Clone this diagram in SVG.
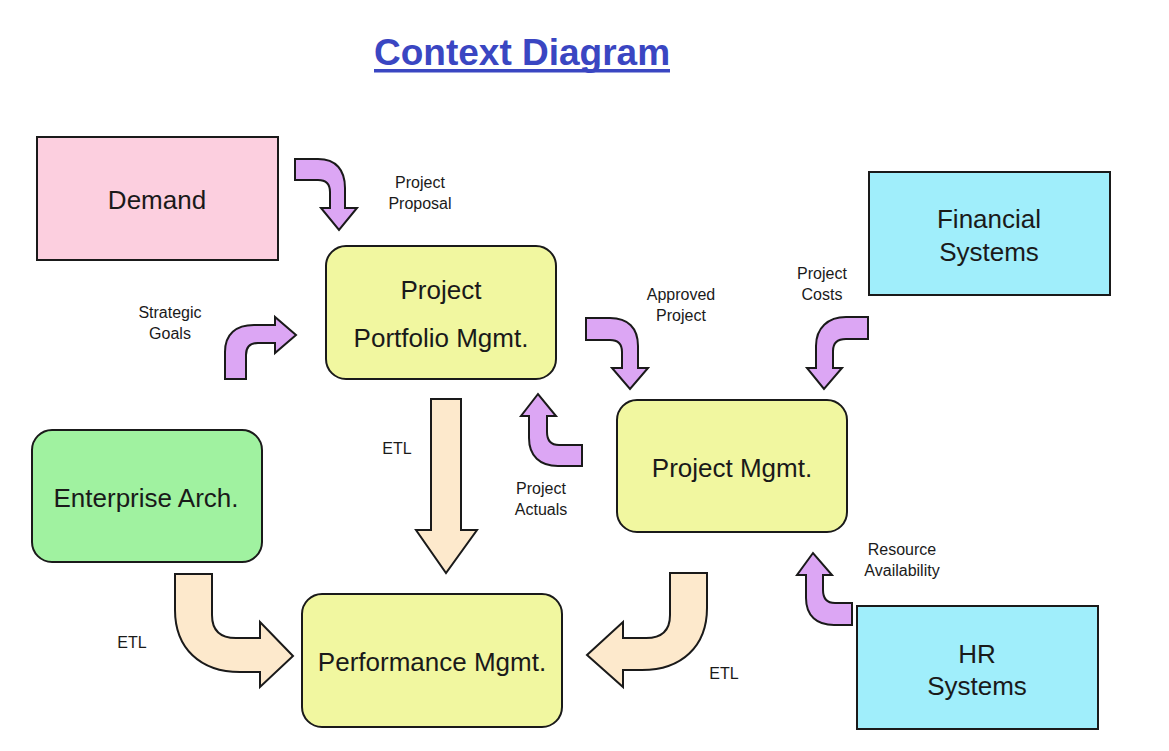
<svg xmlns="http://www.w3.org/2000/svg" width="1169" height="751" viewBox="0 0 1169 751">
<style>
.box{stroke:#1a1a1a;stroke-width:2}
.pink{fill:#fccfdf}
.yel{fill:#f1f7a0}
.cyan{fill:#a0eefb}
.grn{fill:#a0f2a0}
.t{font-family:"Liberation Sans",Arial,sans-serif;font-size:26px;fill:#1a1a1a;text-anchor:middle}
.l{font-family:"Liberation Sans",Arial,sans-serif;font-size:16px;fill:#1a1a1a;text-anchor:middle}
.pa{fill:#dca6f4;stroke:#1a1a1a;stroke-width:2;stroke-linejoin:miter}
.ea{fill:#fde9cc;stroke:#1a1a1a;stroke-width:2;stroke-linejoin:miter}
</style>
<rect width="1169" height="751" fill="#ffffff"/>
<g id="title">
<text x="374" y="65" font-family="'Liberation Sans',Arial,sans-serif" font-weight="bold" font-size="37" fill="#3a46c2">Context Diagram</text>
<rect x="374" y="69" width="296" height="3.5" fill="#3a46c2"/>
</g>
<g id="demand">
<rect class="box pink" x="37" y="137" width="241" height="123"/>
<text class="t" x="157" y="209">Demand</text>
</g>
<g id="ppm">
<rect class="box yel" x="326" y="246" width="230" height="133" rx="20"/>
<text class="t" x="441" y="299">Project</text>
<text class="t" x="441" y="347">Portfolio Mgmt.</text>
</g>
<g id="financial">
<rect class="box cyan" x="869" y="172" width="241" height="123"/>
<text class="t" x="989" y="228">Financial</text>
<text class="t" x="989" y="261">Systems</text>
</g>
<g id="pm">
<rect class="box yel" x="617" y="400" width="230" height="132" rx="20"/>
<text class="t" x="732" y="477">Project Mgmt.</text>
</g>
<g id="ea">
<rect class="box grn" x="32" y="430" width="230" height="132" rx="20"/>
<text class="t" x="146" y="507">Enterprise Arch.</text>
</g>
<g id="perf">
<rect class="box yel" x="302" y="594" width="260" height="133" rx="20"/>
<text class="t" x="432" y="671">Performance Mgmt.</text>
</g>
<g id="hr">
<rect class="box cyan" x="857" y="606" width="241" height="123"/>
<text class="t" x="977" y="663">HR</text>
<text class="t" x="977" y="695">Systems</text>
</g>
<g id="connectors">
<path class="pa" d="M295,159 L318,159 C336,159 345,170 345,188 L345,208 L357,208 L339,230 L321,208 L330,208 L330,192 C330,184 326,180 318,180 L295,180 Z"/>
<path class="pa" d="M225,379 L225,352 C225,334 236,325 254,325 L275,325 L275,317 L296,335 L275,353 L275,343 L258,343 C250,343 246,347 246,355 L246,379 Z"/>
<path class="pa" d="M586,318 L610,318 C628,318 638,328 638,346 L638,368 L648,368 L630,389 L612,368 L622,368 L622,352 C622,344 618,340 610,340 L586,340 Z"/>
<path class="pa" d="M868,317 L846,317 C828,317 816,328 816,346 L816,368 L807,368 L824,389 L842,368 L833,368 L833,351 C833,343 837,339 846,339 L868,339 Z"/>
<path class="pa" d="M582,445 L559,445 C551,445 547,441 547,432 L547,416 L556,416 L538,394 L521,416 L529,416 L529,438 C529,456 540,466 558,466 L582,466 Z"/>
<path class="pa" d="M852,603 L835,603 C827,603 823,599 823,590 L823,575 L832,575 L813,553 L797,575 L806,575 L806,598 C806,616 817,625 834,625 L852,625 Z"/>
<path class="ea" d="M431,399 L461,399 L461,530 L477,530 L446,573 L416,530 L431,530 Z"/>
<path class="ea" d="M175,574 L212,574 L212,615 C212,630 220,638 236,638 L260,638 L260,622 L293,656 L260,687 L260,672 L240,672 C200,672 175,648 175,610 Z"/>
<path class="ea" d="M707,573 L670,573 L670,615 C670,630 662,638 646,638 L623,638 L623,622 L587,655 L623,687 L623,670 L642,670 C682,670 707,646 707,608 Z"/>
</g>
<g id="labels">
<text class="l" x="420" y="188">Project</text>
<text class="l" x="420" y="209">Proposal</text>
<text class="l" x="170" y="318">Strategic</text>
<text class="l" x="170" y="339">Goals</text>
<text class="l" x="681" y="300">Approved</text>
<text class="l" x="681" y="321">Project</text>
<text class="l" x="822" y="279">Project</text>
<text class="l" x="822" y="300">Costs</text>
<text class="l" x="397" y="454">ETL</text>
<text class="l" x="541" y="494">Project</text>
<text class="l" x="541" y="515">Actuals</text>
<text class="l" x="902" y="555">Resource</text>
<text class="l" x="902" y="576">Availability</text>
<text class="l" x="132" y="648">ETL</text>
<text class="l" x="724" y="679">ETL</text>
</g>
</svg>
